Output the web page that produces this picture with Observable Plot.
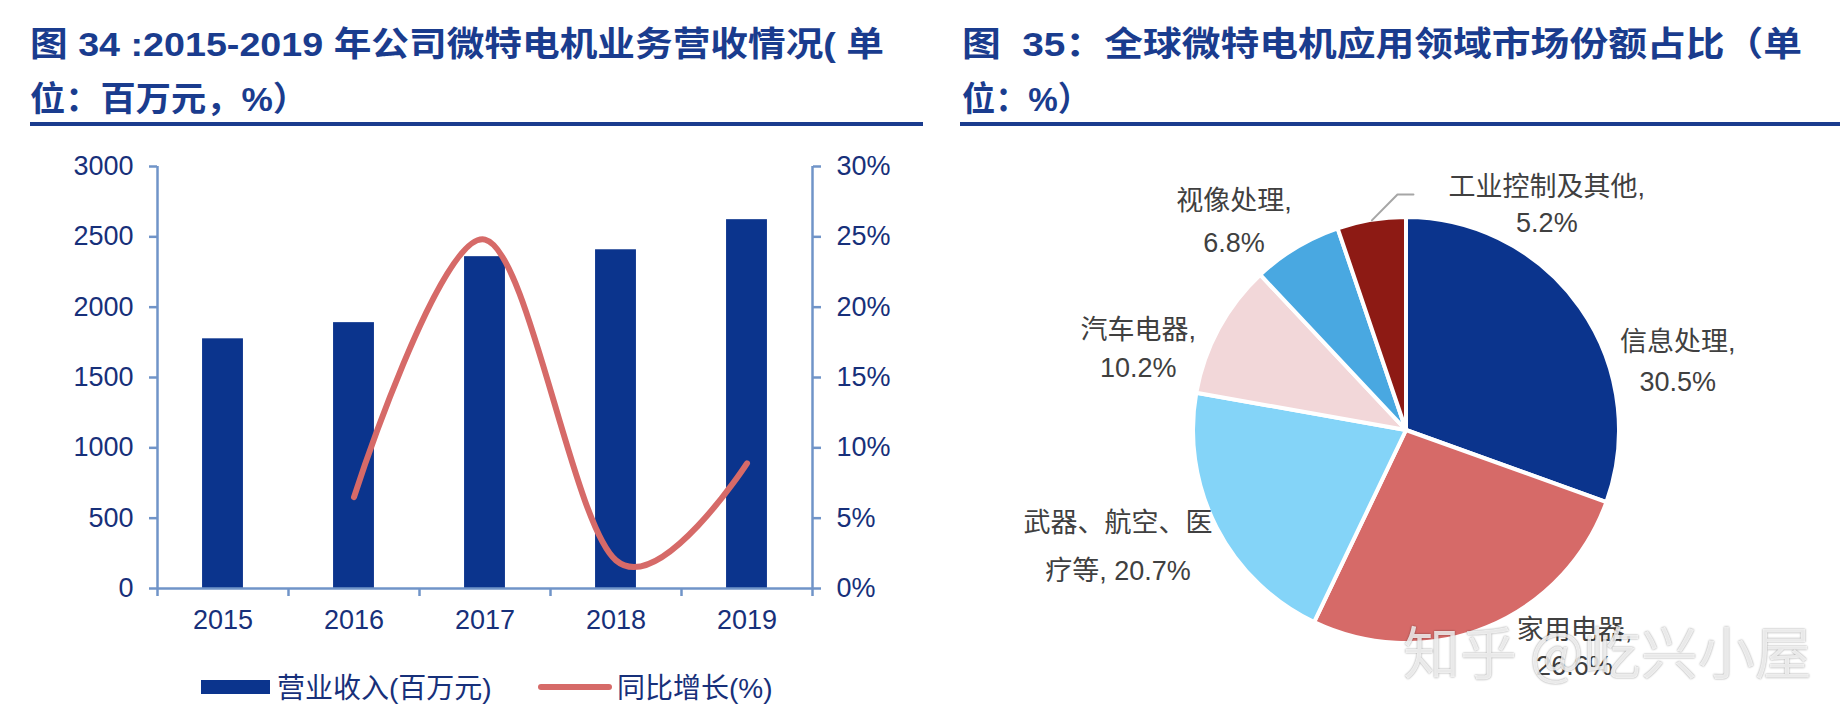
<!DOCTYPE html>
<html><head><meta charset="utf-8">
<script src="https://cdn.jsdelivr.net/npm/d3@7"></script>
<script src="https://cdn.jsdelivr.net/npm/@observablehq/plot@0.6"></script>
<style>
html,body{margin:0;padding:0;background:#fff;}
#root{position:relative;width:1848px;height:728px;overflow:hidden;font-family:"Liberation Sans",Arial,"Noto Sans CJK SC",sans-serif;}
.title{position:absolute;font-weight:bold;color:#1a3c8e;font-size:34px;line-height:34px;white-space:nowrap;transform-origin:0 0;font-family:"Liberation Sans",Arial,"Noto Sans CJK SC",sans-serif;}
.rule{position:absolute;height:4px;background:#1a3c8e;}
.legtxt{position:absolute;font-size:28px;line-height:28px;color:#17307a;white-space:nowrap;}
.panel{position:absolute;}
#wm{position:absolute;left:1403px;top:621px;font-family:"Noto Sans CJK SC",sans-serif;font-size:57px;line-height:57px;color:rgba(255,255,255,0.8);text-shadow:0 0 2px rgba(0,0,0,0.45);white-space:nowrap;}
</style></head>
<body><div id="root">
  <div class="title" id="t1a" style="left:30px;top:27px">图 34 :2015-2019 年公司微特电机业务营收情况( 单</div>
  <div class="title" id="t1b" style="left:30px;top:82px">位：百万元，%）</div>
  <div class="rule" style="left:30px;top:122px;width:893px"></div>
  <div class="title" id="t2a" style="left:962px;top:27px">图&nbsp;&nbsp;35：全球微特电机应用领域市场份额占比（单</div>
  <div class="title" id="t2b" style="left:962px;top:82px">位：%）</div>
  <div class="rule" style="left:960px;top:122px;width:880px"></div>
  <div class="panel" id="left" style="left:0;top:140px"></div>
  <div class="panel" id="right" style="left:930px;top:140px"></div>
  <div style="position:absolute;left:201px;top:680px;width:69px;height:14px;background:#0b348d"></div>
  <div class="legtxt" style="left:277px;top:675px">营业收入(百万元)</div>
  <div style="position:absolute;left:538px;top:684px;width:74px;height:6px;border-radius:3px;background:#d66a68"></div>
  <div class="legtxt" style="left:617px;top:675px">同比增长(%)</div>
  <div id="wm">知乎 @屹兴小屋</div>
</div>
<script>
// ---- data: left chart ----
const years = ["2015", "2016", "2017", "2018", "2019"];
const revenue = [1775, 1890, 2359, 2408, 2622];      // 营业收入(百万元)
const growth = [null, 6.5, 24.8, 2.0, 8.9];           // 同比增长(%)
const leftTicks = [0, 500, 1000, 1500, 2000, 2500, 3000];

// ---- data: pie ----
const segments = ["信息处理", "家用电器", "武器、航空、医疗等", "汽车电器", "视像处理", "工业控制及其他"];
const shares = [30.5, 26.6, 20.7, 10.2, 6.8, 5.2];
const segColors = ["#0b348d", "#d66a68", "#84d4f8", "#f2d7d9", "#49a8e1", "#8d1a14"];

const axisColor = "#7094c8";
const tickText = "#17307a";
const FONT = '"Liberation Sans", Arial, "Noto Sans CJK SC", sans-serif';

const rows = years.map((y, i) => ({year: y, i, revenue: revenue[i], growth: growth[i]}));
const halfBar = 0.156;

const left = Plot.plot({
  width: 930, height: 510,
  marginLeft: 157, marginRight: 118, marginTop: 26, marginBottom: 62,
  x: {domain: [-0.5, years.length - 0.5]},
  y: {domain: [0, 3000]},
  style: {background: "transparent", fontFamily: FONT, fontSize: "27px", color: tickText, overflow: "visible"},
  marks: [
    Plot.rectY(rows, {x1: d => d.i - halfBar, x2: d => d.i + halfBar, y1: 0, y2: "revenue", fill: "#0b348d"}),
    Plot.ruleY([0], {stroke: axisColor, strokeWidth: 2.5}),
    Plot.ruleX([-0.5, years.length - 0.5], {stroke: axisColor, strokeWidth: 2.5}),
    Plot.line(rows.filter(d => d.growth != null), {x: "i", y: d => d.growth * 100, curve: "cardinal", tension: 0,
      stroke: "#d66a68", strokeWidth: 6, strokeLinecap: "round", strokeLinejoin: "round"}),
    Plot.axisY({anchor: "left", ticks: leftTicks, tickSize: 8, tickPadding: 16, stroke: axisColor, strokeWidth: 2.5,
      fill: tickText, fontSize: 27, label: null, tickFormat: d => String(d)}),
    Plot.axisY({anchor: "right", ticks: leftTicks, tickSize: 8, tickPadding: 16, stroke: axisColor, strokeWidth: 2.5,
      fill: tickText, fontSize: 27, label: null, tickFormat: d => (d / 100) + "%"}),
    Plot.axisX({ticks: d3.range(years.length), tickFormat: i => years[i], tickSize: 0, tickPadding: 21,
      fill: tickText, fontSize: 27, label: null}),
    Plot.axisX({ticks: d3.range(years.length + 1).map(k => k - 0.5), tickFormat: () => "", tickSize: 8,
      stroke: axisColor, strokeWidth: 2.5, label: null})
  ]
});
document.getElementById("left").appendChild(left);

// ---- pie ----
const pieRows = segments.map((s, i) => ({segment: s, share: shares[i]}));
const arcs = d3.pie().sort(null).value(d => d.share)(pieRows);
const mid = a => (a.startAngle + a.endAngle) / 2;
const R = 213;
// label nudges (pixels) from the slice's outer edge at its mid-angle
const labelLayout = {
  "信息处理": {dx: 97, dy: 50, lh: 1.48},
  "家用电器": {dx: 87, dy: 18, lh: 1.35},
  "武器、航空、医疗等": {dx: -99, dy: 13, lh: 1.78},
  "汽车电器": {dx: -81, dy: 17, lh: 1.38},
  "视像处理": {dx: -63, dy: -30, lh: 1.55},
  "工业控制及其他": {dx: 175, dy: -18, lh: 1.35}
};
function labelText(d) {
  const v = d.share.toFixed(1) + "%";
  if (d.segment.length <= 7) return d.segment + ",\n" + v;
  return d.segment.slice(0, 7) + "\n" + d.segment.slice(7) + ", " + v;
}
function slices(index, scales) {
  const cx = scales.x(0), cy = scales.y(0), r = Math.abs(scales.x(1) - scales.x(0));
  const color = scales.color || (s => segColors[segments.indexOf(s)]);
  const g = d3.create("svg:g").attr("transform", `translate(${cx},${cy})`);
  const arc = d3.arc().innerRadius(0).outerRadius(r);
  g.selectAll("path").data(arcs).join("path")
    .attr("d", arc)
    .attr("fill", d => color(d.data.segment))
    .attr("stroke", "#fff").attr("stroke-width", 4).attr("stroke-linejoin", "round");
  return g.node();
}
const small = arcs[arcs.length - 1];
const e = [Math.sin(mid(small)), Math.cos(mid(small))];
const leader = [[0, 0], [25.6, 25.8], [41.6, 25.8]].map(([px, py]) => ({x: e[0] + px / R, y: e[1] + py / R}));

const right = Plot.plot({
  width: 918, height: 560,
  marginLeft: 263, marginRight: 229, marginTop: 77, marginBottom: 57,
  x: {domain: [-1, 1], axis: null},
  y: {domain: [-1, 1], axis: null},
  color: {domain: segments, range: segColors},
  style: {background: "transparent", fontFamily: FONT, fontSize: "27px", overflow: "visible"},
  marks: [
    Plot.dot(pieRows, {x: () => 0, y: () => 0, fill: "segment", r: 0}),
    slices,
    Plot.line(leader, {x: "x", y: "y", stroke: "#a6a6a6", strokeWidth: 2}),
    ...arcs.map(a => {
      const L = labelLayout[a.data.segment];
      return Plot.text([a], {x: d => Math.sin(mid(d)), y: d => Math.cos(mid(d)), text: d => labelText(d.data),
        dx: L.dx, dy: L.dy, lineHeight: L.lh, fill: "#404040", fontSize: 27, textAnchor: "middle"});
    })
  ]
});
document.getElementById("right").appendChild(right);

// fit title lines to the reference's widths
const fits = {t1a: 854, t1b: 278, t2a: 840, t2b: 129};
for (const [id, w] of Object.entries(fits)) {
  const el = document.getElementById(id);
  const cur = el.getBoundingClientRect().width;
  if (cur > 0) el.style.transform = `scaleX(${w / cur})`;
}
</script>
</body></html>
